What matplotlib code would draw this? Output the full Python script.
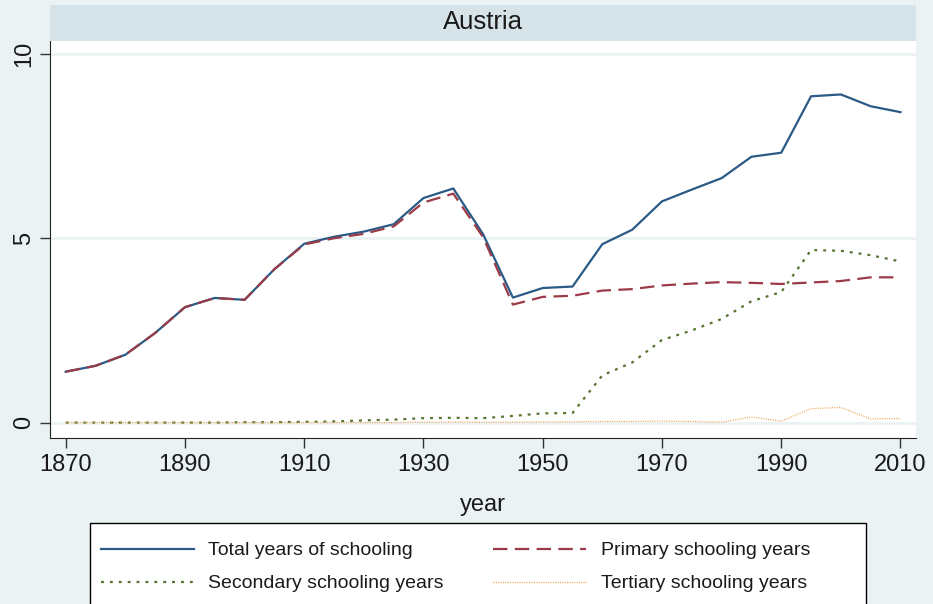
import matplotlib.pyplot as plt
from matplotlib.patches import Rectangle
from matplotlib.lines import Line2D

years = list(range(1870, 2011, 5))
total = [1.38, 1.54, 1.84, 2.43, 3.13, 3.38, 3.33, 4.16, 4.85, 5.04, 5.18, 5.38, 6.09, 6.35,
         5.11, 3.39, 3.65, 3.69, 4.84, 5.23, 6.00, 6.32, 6.63, 7.21, 7.32, 8.85, 8.90, 8.58, 8.42]
primary = [1.38, 1.54, 1.84, 2.43, 3.13, 3.38, 3.33, 4.16, 4.83, 5.00, 5.12, 5.32, 5.97, 6.21,
           5.03, 3.20, 3.41, 3.44, 3.58, 3.62, 3.72, 3.77, 3.81, 3.79, 3.76, 3.80, 3.84, 3.94, 3.94]
secondary = [0.0, 0.0, 0.0, 0.0, 0.0, 0.0, 0.01, 0.01, 0.02, 0.03, 0.06, 0.08, 0.12, 0.13,
             0.12, 0.18, 0.25, 0.26, 1.28, 1.63, 2.24, 2.50, 2.81, 3.29, 3.54, 4.68, 4.66, 4.54, 4.37]
tertiary = [0.0, 0.0, 0.0, 0.0, 0.0, 0.0, 0.0, 0.0, 0.0, 0.0, 0.0, 0.0, 0.01, 0.01,
            0.01, 0.01, 0.02, 0.02, 0.03, 0.03, 0.04, 0.03, 0.01, 0.15, 0.04, 0.38, 0.41, 0.10, 0.11]
labels = ['Total years of schooling', 'Primary schooling years',
          'Secondary schooling years', 'Tertiary schooling years']

plt.rcParams['font.family'] = ['Liberation Sans', 'DejaVu Sans']

W, H = 933, 604
fig = plt.figure(figsize=(W / 100, H / 100), dpi=100, facecolor='#eaf2f3')
ax = fig.add_axes([50 / W, 1 - 437.7 / H, 866 / W, 396.7 / H])
ax.set_facecolor('white')

for v in [0, 5, 10]:
    ax.axhline(v, color='#eaf2f3', lw=2, zorder=0)

styles = [dict(color='#2a5a85', lw=1.6),
          dict(color='#9a3b47', lw=1.6, dashes=(6.5, 3.3)),
          dict(color='#55752f', lw=1.6, dashes=(1.3, 2.7)),
          dict(color='#f0a04a', lw=0.9, dashes=(0.8, 1.1))]
series = [total, primary, secondary, tertiary]
for vals, st, lab in zip(series, styles, labels):
    ax.plot(years, vals, label=lab, **st)

ax.set_xlim(1867.37, 2012.6)
ax.set_ylim(-0.41, 10.35)
ax.set_xticks(range(1870, 2011, 20))
ax.set_yticks([0, 5, 10])
ax.tick_params(axis='both', length=7.5, width=1, labelsize=17, color='#333333',
               labelcolor='#1a1a1a')
ax.tick_params(axis='x', pad=4)
ax.tick_params(axis='y', labelrotation=90, pad=3)
for lab in ax.get_yticklabels():
    lab.set_va('center')
for s in ['top', 'right']:
    ax.spines[s].set_visible(False)
for s in ['left', 'bottom']:
    ax.spines[s].set_color('#222222')
ax.set_xlabel('year', fontsize=17, labelpad=13, color='#1a1a1a')

# strip title
fig.patches.append(Rectangle((50 / W, 1 - 40.5 / H), 866 / W, 35.5 / H, transform=fig.transFigure,
                             facecolor='#d6e3e8', edgecolor='none'))
fig.text(483 / W, 1 - 22 / H, 'Austria', ha='center', va='center', fontsize=18.5, color='#1a1a1a')

# legend box (drawn by hand, Stata style)
fig.patches.append(Rectangle((90 / W, -10 / H), 776 / W, (H - 523 + 10) / H, transform=fig.transFigure,
                             facecolor='white', edgecolor='black', lw=1))
rows = [548.5, 582]
cols = [(101, 194, 208), (493, 586, 601)]
for i, (st, lab) in enumerate(zip(styles, labels)):
    r, c = rows[i // 2], cols[i % 2]
    fig.lines.append(Line2D([c[0] / W, c[1] / W], [1 - r / H, 1 - r / H],
                            transform=fig.transFigure, **st))
    fig.text(c[2] / W, 1 - (r + 2) / H, lab, ha='left', va='center', fontsize=14, color='#1a1a1a')

fig.savefig('out.png', dpi=100, facecolor=fig.get_facecolor())
